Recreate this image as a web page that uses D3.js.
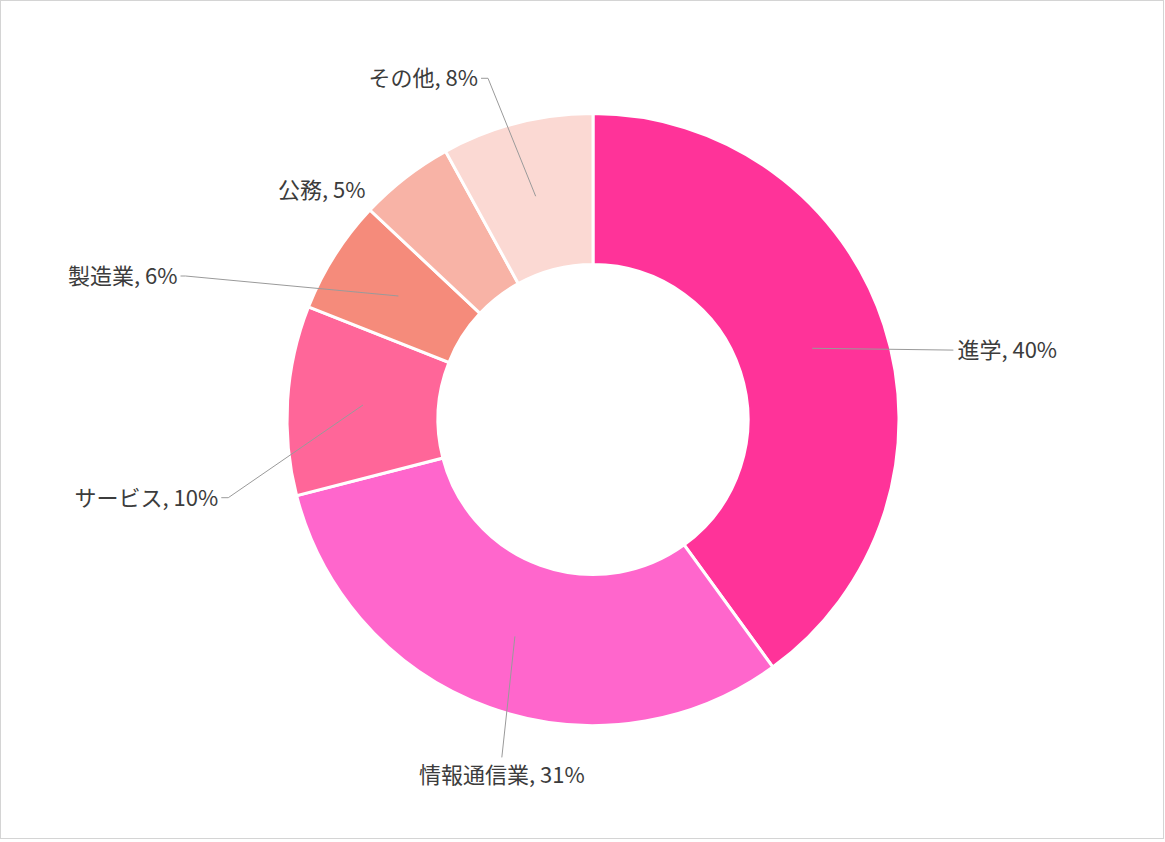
<!DOCTYPE html>
<html>
<head>
<meta charset="utf-8">
<script src="https://cdn.jsdelivr.net/npm/d3@7"></script>
<style>
  body { margin: 0; background: #fff; }
  text { font-family: "Noto Sans CJK JP", "Noto Sans", sans-serif; }
</style>
</head>
<body>
<div id="chart"></div>
<script>
// data
var categories = ["進学", "情報通信業", "サービス", "製造業", "公務", "その他"];
var shares = [40, 31, 10, 6, 5, 8];
var colors = ["#ff3399", "#ff66cc", "#ff6699", "#f58b7b", "#f8b3a6", "#fbd9d3"];

// label placement: polar spot (deg from top, radius) where the leader ends
var labelAngle = [79.1, 195.1, 257.9, 289.4, 315.6, 342.9];
var labelRadius = [367, 350, 373, 432, 321, 357];
var labelSide = ["start", "middle", "end", "end", "end", "end"];
var labelTick = [4, 0, 7, 5, 0, 7];
var hasLine = [true, true, true, true, false, true];

var width = 1165, height = 842;
var cx = 593, cy = 419.5, outerR = 306, innerR = 155;

var svg = d3.select("#chart").append("svg")
    .attr("width", width)
    .attr("height", height);

svg.append("rect")
    .attr("x", 0.5).attr("y", 0.5)
    .attr("width", 1163).attr("height", 838)
    .attr("fill", "#fff")
    .attr("stroke", "#d4d4d4");

var g = svg.append("g")
    .attr("transform", "translate(" + cx + "," + cy + ")");

var data = categories.map(function(c, i) {
    return {name: c, value: shares[i], color: colors[i], i: i};
});

var pie = d3.pie()
    .value(function(d) { return d.value; })
    .sort(null);

var arc = d3.arc()
    .innerRadius(innerR)
    .outerRadius(outerR);

var arcs = pie(data);

g.selectAll("path.slice")
    .data(arcs)
    .enter()
    .append("path")
    .attr("class", "slice")
    .attr("d", arc)
    .attr("fill", function(d) { return d.data.color; })
    .attr("stroke", "#fff")
    .attr("stroke-width", 3);

function polar(deg, r) {
    var a = deg * Math.PI / 180;
    return [r * Math.sin(a), -r * Math.cos(a)];
}

// leader lines
g.selectAll("polyline.leader")
    .data(arcs.filter(function(d) { return hasLine[d.data.i]; }))
    .enter()
    .append("polyline")
    .attr("class", "leader")
    .attr("fill", "none")
    .attr("stroke", "#9a9a9a")
    .attr("stroke-width", 1)
    .attr("points", function(d) {
        var i = d.data.i;
        var c = arc.centroid(d);
        var p = polar(labelAngle[i], labelRadius[i]);
        var pts = [c, p];
        if (labelSide[i] === "end") pts.push([p[0] - labelTick[i], p[1]]);
        return pts.map(function(q) { return q.join(","); }).join(" ");
    });

// labels
g.selectAll("text.label")
    .data(arcs)
    .enter()
    .append("text")
    .attr("class", "label")
    .attr("x", function(d) {
        var i = d.data.i;
        var p = polar(labelAngle[i], labelRadius[i]);
        if (labelSide[i] === "start") return p[0] + labelTick[i];
        if (labelSide[i] === "end") return p[0] - labelTick[i] - 3;
        return p[0];
    })
    .attr("y", function(d) {
        var i = d.data.i;
        var p = polar(labelAngle[i], labelRadius[i]);
        return labelSide[i] === "middle" ? p[1] + 18 : p[1];
    })
    .attr("dy", "0.36em")
    .attr("text-anchor", function(d) { return labelSide[d.data.i]; })
    .style("font-size", "22px")
    .style("fill", "#3c3c3c")
    .text(function(d) { return d.data.name + ", " + d.data.value + "%"; });
</script>
</body>
</html>
